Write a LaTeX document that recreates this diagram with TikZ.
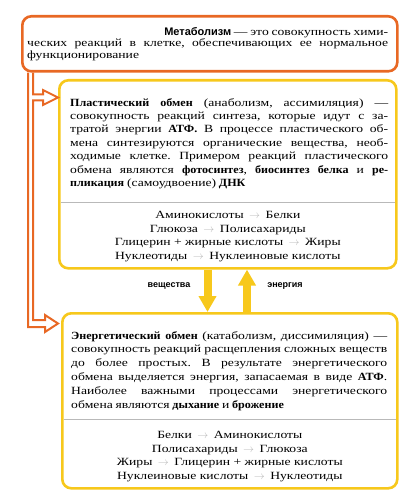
\documentclass[tikz,border=0pt]{standalone}
\usepackage{fontspec}
\setmainfont{Liberation Serif}[FakeStretch=1.24, BoldFeatures={FakeStretch=1.1}]
\newfontfamily\labelfont{Liberation Sans}
\usetikzlibrary{arrows.meta,calc,positioning}
\definecolor{metaorange}{RGB}{232,104,36}
\definecolor{obmenyellow}{RGB}{247,200,28}
\newcommand{\turnsinto}{\textcolor{gray!55}{\enspace$\rightarrow$\enspace}}
\newcommand{\textsize}[1]{\fontsize{11}{#1}\selectfont\frenchspacing\spaceskip=0.25em plus 0.4em minus 0.12em\relax}

\tikzset{
  metabox/.style={draw=metaorange, line width=2.6pt, rounded corners=9pt, fill=white, anchor=north west, inner sep=0pt},
  obmenbox/.style={draw=obmenyellow, line width=2.6pt, rounded corners=9pt, fill=white, anchor=north west, inner sep=0pt},
  bodytext/.style={anchor=north west, inner sep=0pt, align=justify, font=\textsize{13.4}},
  listtext/.style={anchor=north, inner sep=0pt, align=center, font=\fontsize{11}{13.6}\selectfont},
  divider/.style={draw=gray!55, line width=0.6pt},
  pipe/.style={draw=metaorange, line width=2pt, line join=miter},
  flow/.style={draw=obmenyellow, line width=8pt, -{Triangle[length=16pt,width=17pt]}},
  flowlabel/.style={font=\labelfont\bfseries\fontsize{9}{10}\selectfont}
}

\begin{document}
\begin{tikzpicture}[x=1pt,y=-1pt]
\useasboundingbox (0,0) rectangle (410,500);

% boxes
\node[metabox, minimum width=375pt, minimum height=55pt] (meta) at (21,15) {};
\node[obmenbox, minimum width=337pt, minimum height=188pt] (plast) at (58,79) {};
\node[obmenbox, minimum width=335pt, minimum height=175pt] (energ) at (61,312) {};

% metabolism
\node[bodytext, text width=361pt, font=\textsize{11.6}] (metatxt) at ($(meta.north west)+(6,12)$) {\hfill{\labelfont\bfseries Метаболизм} --- это совокупность хими-\linebreak
ческих реакций в клетке, обеспечивающих ее нормальное\linebreak
функционирование};

% plastic exchange
\node[bodytext, text width=318pt] (plasttxt) at ($(plast.north west)+(12,19)$) {\textbf{Пластический обмен} (анаболизм, ассимиляция) ---\linebreak
совокупность реакций синтеза, которые идут с за-\linebreak
тратой энергии \textbf{АТФ.} В процессе пластического об-\linebreak
мена синтезируются органические вещества, необ-\linebreak
ходимые клетке. Примером реакций пластического\linebreak
обмена являются \textbf{фотосинтез}, \textbf{биосинтез белка} и \textbf{ре-\linebreak
пликация} (самоудвоение) \textbf{ДНК}};
\draw[divider] ($(plast.north west)+(3,123)$) -- ($(plast.north east)+(-3,123)$);
\node[listtext] (plastlist) at ($(plast.north)+(0,132)$) {Аминокислоты\turnsinto Белки\\
Глюкоза\turnsinto Полисахариды\\
Глицерин + жирные кислоты\turnsinto Жиры\\
Нуклеотиды\turnsinto Нуклеиновые кислоты};

% energy exchange
\node[bodytext, text width=316pt, font=\textsize{13.9}] (energtxt) at ($(energ.north west)+(10,19)$) {\textbf{Энергетический обмен} (катаболизм, диссимиляция) ---\linebreak
совокупность реакций расщепления сложных веществ\linebreak
до более простых. В результате энергетического\linebreak
обмена выделяется энергия, запасаемая в виде \textbf{АТФ}.\linebreak
Наиболее важными процессами энергетического\linebreak
обмена являются \textbf{дыхание} и \textbf{брожение}};
\draw[divider] ($(energ.north west)+(3,107.5)$) -- ($(energ.north east)+(-3,107.5)$);
\node[listtext] (energlist) at ($(energ.north)+(0,119)$) {Белки\turnsinto Аминокислоты\\
Полисахариды\turnsinto Глюкоза\\
Жиры\turnsinto Глицерин + жирные кислоты\\
Нуклеиновые кислоты\turnsinto Нуклеотиды};

% orange pipe from metabolism to both exchanges
\coordinate (t1) at ($(plast.north west)+(0,18.5)$);
\coordinate (t2) at ($(energ.north west)+(-3,11.5)$);
\draw[pipe] ($(meta.south west)+(12,0)$) |- ($(t1)+(-15,-3)$) -- ++(0,-4.5) -- (t1) -- ++(-15,7.5) -- ++(0,-4.5)
  -| ($(t2)+(-25,-3.5)$) -- ++(12,0) -- ++(0,-5) -- (t2) -- ++(-13,8.5) -- ++(0,-5)
  -| ($(meta.south west)+(7,0)$);

% substances and energy
\coordinate (downx) at (207.5,0);
\coordinate (upx) at (247,0);
\draw[flow] (plast.south -| downx) -- (energ.north -| downx);
\draw[flow] (energ.north -| upx) -- (plast.south -| upx);
\node[flowlabel] (veshch) at (169,286) {вещества};
\node[flowlabel] (energy) at (285,286) {энергия};
\end{tikzpicture}
\end{document}
